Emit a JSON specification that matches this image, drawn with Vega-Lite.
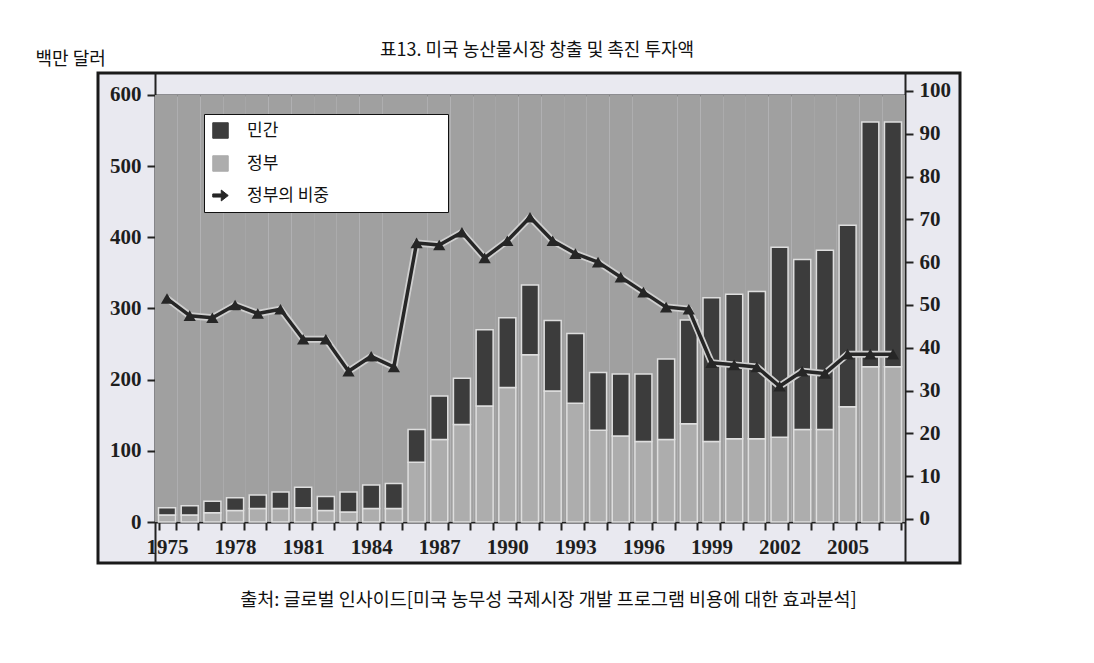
{
  "$schema": "https://vega.github.io/schema/vega-lite/v6.json",
  "width": 862,
  "height": 490,
  "autosize": {"type": "none"},
  "padding": {"left": 98, "top": 73, "right": 134, "bottom": 100},
  "background": "white",
  "title": {
    "text": "표13. 미국 농산물시장 창출 및 촉진 투자액",
    "anchor": "middle",
    "font": "Noto Sans CJK KR",
    "fontSize": 18,
    "fontWeight": "normal",
    "color": "#111",
    "offset": -10,
    "dx": 8
  },
  "config": {
    "view": {"fill": "#e9e9f0", "stroke": "#1a1a1a", "strokeWidth": 3},
    "axis": {
      "labelFont": "Liberation Serif",
      "labelFontSize": 21,
      "labelFontWeight": "bold",
      "labelColor": "#1e1e1e",
      "tickColor": "#222",
      "tickWidth": 2,
      "tickSize": 8,
      "domainColor": "#222",
      "domainWidth": 2,
      "grid": false
    }
  },
  "datasets": {
    "invest": [
      {"year": 1975, "type": "정부", "value": 10}, {"year": 1975, "type": "민간", "value": 10},
      {"year": 1976, "type": "정부", "value": 10}, {"year": 1976, "type": "민간", "value": 13},
      {"year": 1977, "type": "정부", "value": 13}, {"year": 1977, "type": "민간", "value": 16},
      {"year": 1978, "type": "정부", "value": 16}, {"year": 1978, "type": "민간", "value": 18},
      {"year": 1979, "type": "정부", "value": 19}, {"year": 1979, "type": "민간", "value": 19},
      {"year": 1980, "type": "정부", "value": 19}, {"year": 1980, "type": "민간", "value": 23},
      {"year": 1981, "type": "정부", "value": 20}, {"year": 1981, "type": "민간", "value": 29},
      {"year": 1982, "type": "정부", "value": 16}, {"year": 1982, "type": "민간", "value": 20},
      {"year": 1983, "type": "정부", "value": 14}, {"year": 1983, "type": "민간", "value": 28},
      {"year": 1984, "type": "정부", "value": 19}, {"year": 1984, "type": "민간", "value": 33},
      {"year": 1985, "type": "정부", "value": 19}, {"year": 1985, "type": "민간", "value": 35},
      {"year": 1986, "type": "정부", "value": 84}, {"year": 1986, "type": "민간", "value": 46},
      {"year": 1987, "type": "정부", "value": 116}, {"year": 1987, "type": "민간", "value": 61},
      {"year": 1988, "type": "정부", "value": 137}, {"year": 1988, "type": "민간", "value": 65},
      {"year": 1989, "type": "정부", "value": 163}, {"year": 1989, "type": "민간", "value": 107},
      {"year": 1990, "type": "정부", "value": 189}, {"year": 1990, "type": "민간", "value": 98},
      {"year": 1991, "type": "정부", "value": 235}, {"year": 1991, "type": "민간", "value": 98},
      {"year": 1992, "type": "정부", "value": 184}, {"year": 1992, "type": "민간", "value": 99},
      {"year": 1993, "type": "정부", "value": 167}, {"year": 1993, "type": "민간", "value": 98},
      {"year": 1994, "type": "정부", "value": 129}, {"year": 1994, "type": "민간", "value": 81},
      {"year": 1995, "type": "정부", "value": 121}, {"year": 1995, "type": "민간", "value": 87},
      {"year": 1996, "type": "정부", "value": 113}, {"year": 1996, "type": "민간", "value": 95},
      {"year": 1997, "type": "정부", "value": 116}, {"year": 1997, "type": "민간", "value": 113},
      {"year": 1998, "type": "정부", "value": 138}, {"year": 1998, "type": "민간", "value": 146},
      {"year": 1999, "type": "정부", "value": 113}, {"year": 1999, "type": "민간", "value": 202},
      {"year": 2000, "type": "정부", "value": 117}, {"year": 2000, "type": "민간", "value": 203},
      {"year": 2001, "type": "정부", "value": 117}, {"year": 2001, "type": "민간", "value": 207},
      {"year": 2002, "type": "정부", "value": 119}, {"year": 2002, "type": "민간", "value": 267},
      {"year": 2003, "type": "정부", "value": 130}, {"year": 2003, "type": "민간", "value": 239},
      {"year": 2004, "type": "정부", "value": 130}, {"year": 2004, "type": "민간", "value": 252},
      {"year": 2005, "type": "정부", "value": 162}, {"year": 2005, "type": "민간", "value": 255},
      {"year": 2006, "type": "정부", "value": 218}, {"year": 2006, "type": "민간", "value": 344},
      {"year": 2007, "type": "정부", "value": 218}, {"year": 2007, "type": "민간", "value": 344}
    ],
    "share": [
      {"year": 1975, "share": 51.5}, {"year": 1976, "share": 47.5}, {"year": 1977, "share": 47},
      {"year": 1978, "share": 50}, {"year": 1979, "share": 48}, {"year": 1980, "share": 49},
      {"year": 1981, "share": 42}, {"year": 1982, "share": 42}, {"year": 1983, "share": 34.5},
      {"year": 1984, "share": 38}, {"year": 1985, "share": 35.5}, {"year": 1986, "share": 64.5},
      {"year": 1987, "share": 64}, {"year": 1988, "share": 67}, {"year": 1989, "share": 61},
      {"year": 1990, "share": 65}, {"year": 1991, "share": 70.5}, {"year": 1992, "share": 65},
      {"year": 1993, "share": 62}, {"year": 1994, "share": 60}, {"year": 1995, "share": 56.5},
      {"year": 1996, "share": 53}, {"year": 1997, "share": 49.5}, {"year": 1998, "share": 49},
      {"year": 1999, "share": 36.5}, {"year": 2000, "share": 36}, {"year": 2001, "share": 35.5},
      {"year": 2002, "share": 31}, {"year": 2003, "share": 34.5}, {"year": 2004, "share": 34},
      {"year": 2005, "share": 38.5}, {"year": 2006, "share": 38.5}, {"year": 2007, "share": 38.5}
    ]
  },
  "layer": [
    {
      "data": {"name": "share"},
      "mark": {"type": "bar", "fill": "#a0a0a0", "stroke": null},
      "encoding": {
        "x": {
          "field": "year", "type": "ordinal",
          "scale": {"range": [57, 807], "paddingInner": 0, "paddingOuter": 0},
          "axis": {"orient": "top", "offset": -22, "labels": false, "ticks": false, "domain": true, "domainWidth": 2, "domainColor": "#333", "title": null}
        },
        "y": {"datum": 600, "type": "quantitative", "scale": {"domain": [-57.6, 630.9], "nice": false, "zero": false}, "axis": null},
        "y2": {"datum": 0}
      }
    },
    {
      "layer": [
        {
          "data": {"name": "invest"},
          "mark": {"type": "bar", "stroke": "#dedede", "strokeWidth": 1.5},
          "encoding": {
            "x": {
              "field": "year", "type": "ordinal",
              "scale": {"range": [57, 807], "paddingInner": 0.25, "paddingOuter": 0.155},
              "axis": {
                "orient": "bottom",
                "offset": -41,
                "tickBand": "extent",
                "labelAngle": 0,
                "labelPadding": 6,
                "labelExpr": "(datum.value - 1975) % 3 == 0 ? datum.label : ''",
                "title": "출처: 글로벌 인사이드[미국 농무성 국제시장 개발 프로그램 비용에 대한 효과분석]",
                "titleFont": "Noto Sans CJK KR",
                "titleFontSize": 18.5,
                "titleFontWeight": "normal",
                "titleColor": "#111",
                "titleX": 450,
                "titleY": 83,
                "titleAlign": "center",
                "titleBaseline": "alphabetic"
              }
            },
            "y": {
              "field": "value", "type": "quantitative", "stack": "zero",
              "scale": {"domain": [-57.6, 630.9], "nice": false, "zero": false},
              "axis": {
                "orient": "left",
                "offset": -57,
                "values": [0, 100, 200, 300, 400, 500, 600],
                "labelPadding": 6,
                "title": "백만 달러",
                "titleFont": "Noto Sans CJK KR",
                "titleFontSize": 18,
                "titleFontWeight": "normal",
                "titleColor": "#111",
                "titleAngle": 0,
                "titleAlign": "left",
                "titleBaseline": "alphabetic",
                "titleX": -120,
                "titleY": -9
              }
            },
            "color": {
              "field": "type", "type": "nominal",
              "scale": {"domain": ["민간", "정부", "정부의 비중"], "range": ["#3c3c3c", "#adadad", "#262626"]},
              "legend": {
                "orient": "none",
                "legendX": 106,
                "legendY": 41,
                "title": null,
                "fillColor": "white",
                "strokeColor": "#111",
                "padding": 8,
                "rowPadding": 12,
                "labelFont": "Noto Sans CJK KR",
                "labelFontSize": 17,
                "labelColor": "#111",
                "labelOffset": 18,
                "labelLimit": 400,
                "labelExpr": "datum.label + '\u00a0\u00a0\u00a0\u00a0\u00a0\u00a0\u00a0\u00a0\u00a0\u00a0\u00a0\u00a0\u00a0\u00a0\u00a0\u00a0\u00a0\u00a0\u00a0\u00a0\u00a0\u00a0\u00a0\u00a0\u00a0\u00a0\u00a0\u00a0\u00a0\u200b'",
                "symbolSize": 240,
                "symbolType": "square",
                "symbolStrokeColor": "#555",
                "symbolStrokeWidth": 1,
                "encode": {
                  "symbols": {
                    "update": {
                      "shape": {"signal": "datum.value === '정부의 비중' ? 'M-1,-0.2L0.1,-0.2L0.1,-0.7L1,0L0.1,0.7L0.1,0.2L-1,0.2Z' : 'square'"}
                    }
                  }
                }
              }
            },
            "order": {"field": "type", "sort": "descending"}
          }
        },
        {
          "data": {"name": "share"},
          "encoding": {
            "x": {"field": "year", "type": "ordinal"},
            "y": {
              "field": "share", "type": "quantitative",
              "scale": {"domain": [-10.3, 104.2], "nice": false, "zero": false},
              "axis": {
                "orient": "right",
                "offset": -55,
                "values": [0, 10, 20, 30, 40, 50, 60, 70, 80, 90, 100],
                "labelPadding": 6,
                "title": null
              }
            }
          },
          "layer": [
            {"mark": {"type": "line", "stroke": "#cfcfcf", "strokeWidth": 7, "strokeJoin": "round"}},
            {
              "mark": {"type": "line", "strokeWidth": 3.5, "strokeJoin": "round"},
              "encoding": {"color": {"datum": "정부의 비중"}}
            },
            {
              "mark": {"type": "point", "shape": "triangle-up", "filled": true, "size": 150, "opacity": 1},
              "encoding": {"color": {"datum": "정부의 비중"}}
            }
          ]
        }
      ],
      "resolve": {"scale": {"y": "independent"}}
    }
  ],
  "resolve": {"scale": {"x": "independent", "y": "independent"}}
}
